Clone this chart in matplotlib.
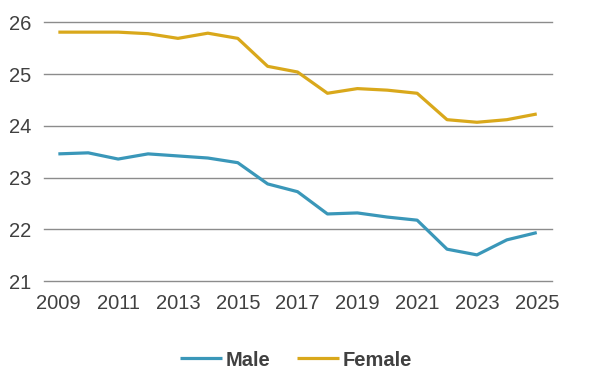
import matplotlib
matplotlib.use("Agg")
import matplotlib.pyplot as plt

plt.rcParams['font.family'] = ['Liberation Sans', 'DejaVu Sans']

years = list(range(2009, 2026))
male = [23.46, 23.48, 23.36, 23.46, 23.42, 23.38, 23.29, 22.88, 22.73,
        22.30, 22.32, 22.24, 22.18, 21.62, 21.51, 21.80, 21.94]
female = [25.81, 25.81, 25.81, 25.78, 25.69, 25.79, 25.69, 25.15, 25.04,
          24.63, 24.72, 24.69, 24.63, 24.12, 24.07, 24.12, 24.23]
xticks = list(range(2009, 2026, 2))
yticks = [21, 22, 23, 24, 25, 26]

male_color = '#3a97b9'
female_color = '#d9a81b'
text_color = '#404040'

fig = plt.figure(figsize=(5.92, 3.91), dpi=100)
ax = fig.add_axes([44 / 592, 1 - 281.3 / 391, (551.7 - 44) / 592, (281.3 - 22.3) / 391])

# gridlines drawn by hand so the edge ones are not clipped
for y in yticks:
    ax.axhline(y, color='#8c8c8c', lw=1.0, clip_on=False, zorder=0)

ax.plot(years, male, color=male_color, lw=2.3, label='Male', solid_capstyle='butt')
ax.plot(years, female, color=female_color, lw=2.3, label='Female', solid_capstyle='butt')

ax.set_xlim(2008.52, 2025.5)
ax.set_ylim(21, 26)
ax.set_xticks(xticks)
ax.set_yticks(yticks)
ax.tick_params(length=0, labelsize=14.5, labelcolor=text_color)
ax.tick_params(axis='x', pad=9)
ax.tick_params(axis='y', pad=9)
for s in ax.spines.values():
    s.set_visible(False)

leg = fig.legend(loc='center', bbox_to_anchor=(0.5, 1 - 360 / 391), ncol=2,
                 frameon=False, handlelength=2.1, handletextpad=0.2,
                 columnspacing=1.3, prop={'size': 14.5, 'weight': 'bold'})
for t in leg.get_texts():
    t.set_color(text_color)

fig.savefig('out.png', dpi=100)
